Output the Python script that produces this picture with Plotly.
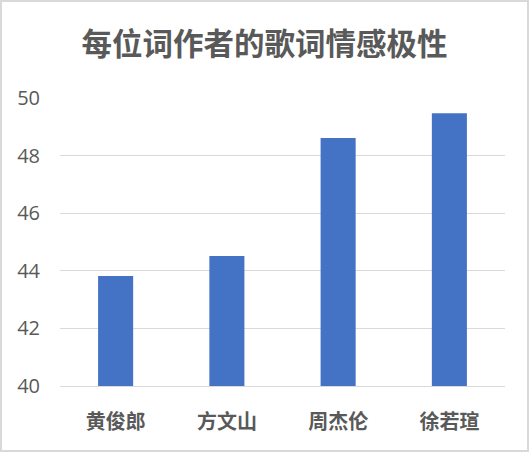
import plotly.graph_objects as go

categories = ["黄俊郎", "方文山", "周杰伦", "徐若瑄"]
values = [43.82, 44.51, 48.61, 49.47]
y_ticks = [40, 42, 44, 46, 48, 50]

W, H = 529, 452
ml, mr, mt, mb = 60, 24, 98, 66
pw, ph = W - ml - mr, H - mt - mb

fig = go.Figure(go.Bar(x=categories, y=values, marker_color="#4472C4",
                       marker_line_width=0, width=0.315, hoverinfo="skip"))

fig.update_layout(
    width=W, height=H,
    margin=dict(l=ml, r=mr, t=mt, b=mb),
    paper_bgcolor="white", plot_bgcolor="white",
    font=dict(family="Noto Sans CJK SC", color="#595959"),
    title=dict(text="<b>每位词作者的歌词情感极性</b>", x=0.5, xanchor="center",
               y=1 - 44 / H, yanchor="middle",
               font=dict(size=30.5, color="#595959", family="Noto Sans CJK SC")),
    showlegend=False,
    bargap=0.685,
)
fig.update_yaxes(range=[40, 50], tickvals=y_ticks, showgrid=True, gridcolor="#d9d9d9",
                 gridwidth=1, zeroline=False, showline=False,
                 tickfont=dict(size=20, color="#595959", family="Open Sans"),
                 ticklabelstandoff=19)
fig.update_xaxes(showline=True, linecolor="#d9d9d9", linewidth=1,
                 tickfont=dict(size=20, color="#595959", family="Noto Sans CJK SC", weight="bold"),
                 ticklabelstandoff=18)

# outer border
fig.add_shape(type="rect", xref="paper", yref="paper",
              x0=-(ml - 1) / pw, x1=1 + (mr - 1) / pw,
              y0=-(mb - 1) / ph, y1=1 + (mt - 1) / ph,
              line=dict(color="#d9d9d9", width=2), fillcolor="rgba(0,0,0,0)")

fig.write_html("out.html", config={"displayModeBar": False},
               post_script="document.body.style.margin='0';document.body.style.overflow='hidden';")
